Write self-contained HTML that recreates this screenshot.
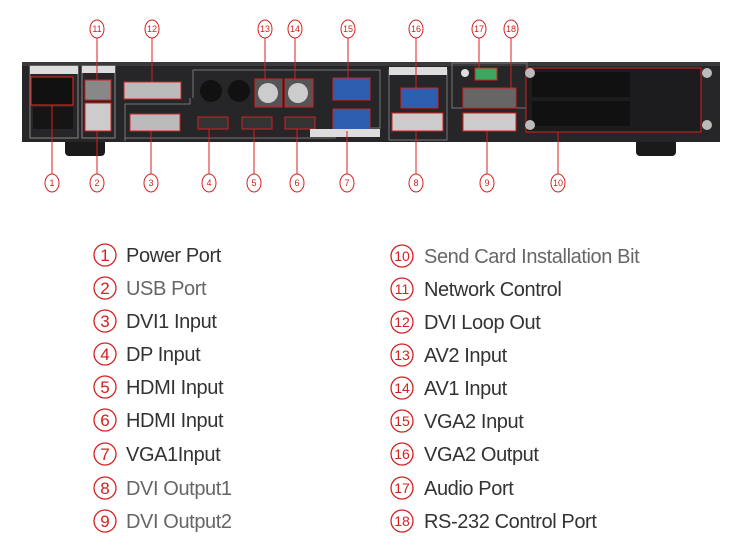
<!DOCTYPE html>
<html><head><meta charset="utf-8"><style>
html,body{margin:0;padding:0;background:#fff;}
svg{display:block;}
.t{font-family:"Liberation Sans",sans-serif;font-size:20px;letter-spacing:-0.4px;}
.n{font-family:"Liberation Sans",sans-serif;font-size:17px;fill:#d42020;}
.s{font-family:"Liberation Sans",sans-serif;font-size:9px;fill:#d42020;}
</style></head><body>
<svg width="732" height="552" viewBox="0 0 732 552" xmlns="http://www.w3.org/2000/svg">
<rect x="65" y="138" width="40" height="18" rx="4" fill="#1a1a1a"/>
<rect x="636" y="138" width="40" height="18" rx="4" fill="#1a1a1a"/>
<rect x="22" y="62" width="698" height="80" fill="#262628"/>
<rect x="22" y="62" width="698" height="4" fill="#3a3a3c"/>
<rect x="30" y="66" width="48" height="72" fill="none" stroke="#888" stroke-width="1"/>
<rect x="30" y="66" width="48" height="8" fill="#ddd"/>
<rect x="31" y="77" width="42" height="28" fill="#111" stroke="#d42020" stroke-width="1.2"/>
<rect x="33" y="107" width="40" height="22" fill="#151515"/>
<rect x="82" y="66" width="33" height="72" fill="none" stroke="#888"/>
<rect x="82" y="66" width="33" height="7" fill="#ddd"/>
<rect x="85" y="80" width="26" height="20" fill="#888" stroke="#d42020"/>
<rect x="85" y="103" width="26" height="28" fill="#ccc" stroke="#d42020"/>
<path d="M125 141 V104 H190 V98 M193 98 V70 H380 V128 H335 V138 H125" fill="none" stroke="#777"/>
<rect x="124" y="82" width="57" height="17" fill="#bbb" stroke="#d42020"/>
<rect x="130" y="114" width="50" height="17" fill="#bbb" stroke="#d42020"/>
<rect x="198" y="117" width="30" height="12" fill="#333" stroke="#d42020"/>
<rect x="242" y="117" width="30" height="12" fill="#333" stroke="#d42020"/>
<rect x="285" y="117" width="30" height="12" fill="#333" stroke="#d42020"/>
<circle cx="211" cy="91" r="11" fill="#111"/>
<circle cx="239" cy="91" r="11" fill="#111"/>
<rect x="255" y="79" width="27" height="28" fill="#555" stroke="#d42020"/>
<circle cx="268" cy="93" r="10" fill="#ccc"/>
<rect x="285" y="79" width="28" height="28" fill="#555" stroke="#d42020"/>
<circle cx="298" cy="93" r="10" fill="#ccc"/>
<rect x="333" y="78" width="37" height="22" fill="#2e5eb0" stroke="#d42020"/>
<rect x="333" y="109" width="37" height="22" fill="#2e5eb0" stroke="#d42020"/>
<rect x="310" y="129" width="70" height="8" fill="#ddd"/>
<rect x="389" y="70" width="58" height="70" fill="none" stroke="#777"/>
<rect x="389" y="67" width="58" height="8" fill="#ddd"/>
<rect x="401" y="88" width="37" height="20" fill="#2e5eb0" stroke="#d42020"/>
<rect x="392" y="113" width="51" height="18" fill="#ccc" stroke="#d42020"/>
<rect x="463" y="113" width="53" height="18" fill="#ccc" stroke="#d42020"/>
<rect x="452" y="63" width="75" height="45" fill="none" stroke="#777"/>
<circle cx="465" cy="73" r="4" fill="#ddd"/>
<rect x="475" y="68" width="22" height="12" fill="#3aa860" stroke="#d42020"/>
<rect x="463" y="88" width="53" height="20" fill="#666" stroke="#d42020"/>
<rect x="526" y="68" width="175" height="64" fill="#1c1c1e" stroke="#d42020"/>
<rect x="532" y="72" width="98" height="25" fill="#111"/>
<rect x="532" y="101" width="98" height="25" fill="#111"/>
<circle cx="530" cy="73" r="5" fill="#bbb"/><circle cx="530" cy="125" r="5" fill="#bbb"/>
<circle cx="707" cy="73" r="5" fill="#bbb"/><circle cx="707" cy="125" r="5" fill="#bbb"/>
<g stroke="#d42020" stroke-width="1">
<line x1="52" y1="105" x2="52" y2="175"/>
<line x1="97" y1="131" x2="97" y2="175"/>
<line x1="151" y1="131" x2="151" y2="175"/>
<line x1="209" y1="129" x2="209" y2="175"/>
<line x1="254" y1="129" x2="254" y2="175"/>
<line x1="297" y1="129" x2="297" y2="175"/>
<line x1="347" y1="131" x2="347" y2="175"/>
<line x1="416" y1="131" x2="416" y2="175"/>
<line x1="487" y1="131" x2="487" y2="175"/>
<line x1="558" y1="132" x2="558" y2="175"/>
<line x1="97" y1="38" x2="97" y2="80"/>
<line x1="152" y1="38" x2="152" y2="82"/>
<line x1="265" y1="38" x2="265" y2="79"/>
<line x1="295" y1="38" x2="295" y2="79"/>
<line x1="348" y1="38" x2="348" y2="78"/>
<line x1="416" y1="38" x2="416" y2="88"/>
<line x1="479" y1="38" x2="479" y2="68"/>
<line x1="511" y1="38" x2="511" y2="88"/>
</g>
<g fill="#fff" stroke="#d42020" stroke-width="1">
<ellipse cx="97" cy="29" rx="7" ry="9"/><ellipse cx="152" cy="29" rx="7" ry="9"/>
<ellipse cx="265" cy="29" rx="7" ry="9"/><ellipse cx="295" cy="29" rx="7" ry="9"/>
<ellipse cx="348" cy="29" rx="7" ry="9"/><ellipse cx="416" cy="29" rx="7" ry="9"/>
<ellipse cx="479" cy="29" rx="7" ry="9"/><ellipse cx="511" cy="29" rx="7" ry="9"/>
<ellipse cx="52" cy="183" rx="7" ry="9"/><ellipse cx="97" cy="183" rx="7" ry="9"/>
<ellipse cx="151" cy="183" rx="7" ry="9"/><ellipse cx="209" cy="183" rx="7" ry="9"/>
<ellipse cx="254" cy="183" rx="7" ry="9"/><ellipse cx="297" cy="183" rx="7" ry="9"/>
<ellipse cx="347" cy="183" rx="7" ry="9"/><ellipse cx="416" cy="183" rx="7" ry="9"/>
<ellipse cx="487" cy="183" rx="7" ry="9"/><ellipse cx="558" cy="183" rx="7" ry="9"/>
</g>
<g class="s" text-anchor="middle">
<text x="97" y="32">11</text><text x="152" y="32">12</text><text x="265" y="32">13</text><text x="295" y="32">14</text>
<text x="348" y="32">15</text><text x="416" y="32">16</text><text x="479" y="32">17</text><text x="511" y="32">18</text>
<text x="52" y="186">1</text><text x="97" y="186">2</text><text x="151" y="186">3</text><text x="209" y="186">4</text>
<text x="254" y="186">5</text><text x="297" y="186">6</text><text x="347" y="186">7</text><text x="416" y="186">8</text>
<text x="487" y="186">9</text><text x="558" y="186">10</text>
</g>
<g fill="none" stroke="#d42020" stroke-width="1.3">
<circle cx="105" cy="255" r="11"/><circle cx="105" cy="288" r="11"/><circle cx="105" cy="321" r="11"/>
<circle cx="105" cy="354" r="11"/><circle cx="105" cy="387" r="11"/><circle cx="105" cy="420" r="11"/>
<circle cx="105" cy="454" r="11"/><circle cx="105" cy="488" r="11"/><circle cx="105" cy="521" r="11"/>
<circle cx="402" cy="256" r="11"/><circle cx="402" cy="289" r="11"/><circle cx="402" cy="322" r="11"/>
<circle cx="402" cy="355" r="11"/><circle cx="402" cy="388" r="11"/><circle cx="402" cy="421" r="11"/>
<circle cx="402" cy="454" r="11"/><circle cx="402" cy="488" r="11"/><circle cx="402" cy="521" r="11"/>
</g>
<g class="n" text-anchor="middle">
<text x="105" y="261">1</text><text x="105" y="294">2</text><text x="105" y="327">3</text>
<text x="105" y="360">4</text><text x="105" y="393">5</text><text x="105" y="426">6</text>
<text x="105" y="460">7</text><text x="105" y="494">8</text><text x="105" y="527">9</text>
<g style="font-size:14px"><text x="402" y="261">10</text><text x="402" y="294">11</text><text x="402" y="327">12</text>
<text x="402" y="360">13</text><text x="402" y="393">14</text><text x="402" y="426">15</text>
<text x="402" y="459">16</text><text x="402" y="493">17</text><text x="402" y="526">18</text></g>
</g>
<g class="t">
<text x="126" y="262" fill="#333">Power Port</text>
<text x="126" y="295" fill="#666">USB Port</text>
<text x="126" y="328" fill="#333">DVI1 Input</text>
<text x="126" y="361" fill="#333">DP Input</text>
<text x="126" y="394" fill="#333">HDMI Input</text>
<text x="126" y="427" fill="#333">HDMI Input</text>
<text x="126" y="461" fill="#333">VGA1Input</text>
<text x="126" y="495" fill="#666">DVI Output1</text>
<text x="126" y="528" fill="#666">DVI Output2</text>
<text x="424" y="263" fill="#666">Send Card Installation Bit</text>
<text x="424" y="296" fill="#333">Network Control</text>
<text x="424" y="329" fill="#333">DVI Loop Out</text>
<text x="424" y="362" fill="#333">AV2 Input</text>
<text x="424" y="395" fill="#333">AV1 Input</text>
<text x="424" y="428" fill="#333">VGA2 Input</text>
<text x="424" y="461" fill="#333">VGA2 Output</text>
<text x="424" y="495" fill="#333">Audio Port</text>
<text x="424" y="528" fill="#333">RS-232 Control Port</text>
</g>
</svg>
</body></html>
